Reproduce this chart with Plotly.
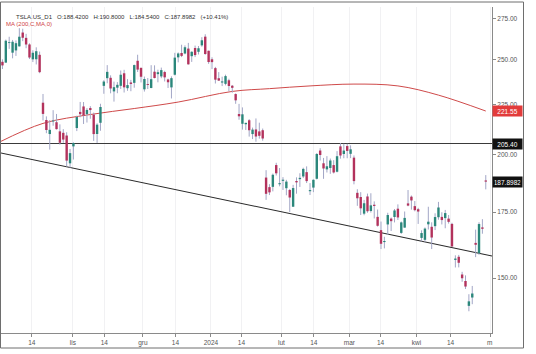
import math
import pandas as pd
import plotly.graph_objects as go

# ---------------- data ----------------
holidays = ["2023-11-23", "2023-12-25", "2024-01-01", "2024-01-15", "2024-02-19", "2024-03-29"]
dates = pd.bdate_range("2023-10-02", "2024-04-29", freq="C", holidays=holidays).strftime("%Y-%m-%d").tolist()

opens = [244.81, 248.61, 248.14, 260.00, 253.98, 255.31, 257.75, 266.20, 262.92, 258.90, 250.05, 250.10, 252.70, 225.95, 217.01, 210.00, 216.50, 215.88, 211.32, 210.60, 209.28, 196.12,
         204.04, 212.97, 221.15, 223.98, 219.98, 223.15, 219.75, 210.03, 215.60, 235.03, 239.29, 239.49, 232.00, 234.04, 235.04, 242.04, 233.75, 236.89, 236.68, 249.21, 245.14,
         233.14, 235.75, 233.87, 242.92, 241.55, 240.27, 242.74, 238.55, 234.19, 241.22, 251.21, 253.78, 253.48, 256.41, 251.90, 256.76, 254.49, 258.35, 263.66, 255.10,
         250.08, 244.98, 239.25, 236.86, 236.14, 238.11, 235.10, 230.57, 220.08, 215.10, 214.86, 216.88, 209.99, 212.26, 211.30, 211.88, 189.70, 185.50, 185.63, 195.33, 187.00,
         188.50, 185.04, 184.26, 177.21, 188.18, 189.00, 190.18, 192.11, 183.99, 185.30, 189.16, 202.06, 196.13, 193.36, 194.00, 195.31, 192.29, 204.04, 200.42, 204.18,
         200.52, 198.73, 183.05, 181.27, 174.35, 181.50, 175.45, 177.77, 173.05, 167.77, 163.16, 170.02, 172.36, 173.00, 176.39, 166.69, 168.76, 178.58, 181.41, 177.45,
         176.17, 164.75, 164.02, 170.07, 169.08, 169.34, 172.91, 173.04, 172.55, 172.34, 170.24, 156.74, 157.64, 151.25, 148.97, 140.56, 143.33, 162.84, 158.96, 168.85, 188.42]
highs = [254.28, 250.02, 261.86, 263.60, 261.65, 261.36, 268.94, 268.60, 265.41, 259.60, 255.40, 257.18, 254.63, 230.61, 218.86, 216.98, 222.05, 220.10, 214.80, 212.41, 210.88, 202.80,
         205.99, 219.20, 226.37, 226.32, 223.12, 224.15, 220.80, 215.38, 225.40, 238.14, 246.70, 240.88, 237.39, 237.10, 243.62, 244.01, 238.75, 238.33, 247.00, 252.75, 245.22,
         240.19, 239.37, 246.66, 246.57, 244.08, 245.27, 243.44, 238.99, 240.30, 253.88, 254.13, 258.74, 258.34, 259.84, 254.80, 258.22, 257.97, 263.34, 265.13, 255.19,
         251.25, 245.68, 242.70, 240.12, 241.25, 238.96, 235.50, 230.93, 225.34, 223.49, 215.67, 217.45, 213.19, 217.80, 215.65, 212.73, 193.00, 186.78, 191.48, 196.36, 193.97,
         189.88, 188.69, 184.68, 186.49, 189.79, 191.62, 194.12, 194.73, 187.26, 188.89, 200.88, 203.17, 198.60, 199.44, 198.32, 197.57, 201.78, 205.60, 205.30, 205.28,
         204.52, 199.75, 184.59, 183.33, 180.04, 182.73, 182.87, 179.43, 176.05, 171.17, 165.18, 174.72, 172.82, 176.25, 178.18, 171.20, 175.24, 184.25, 181.91, 179.57,
         176.75, 167.69, 168.82, 177.19, 170.86, 174.50, 179.22, 174.93, 175.88, 173.81, 170.69, 158.19, 158.33, 152.20, 150.94, 144.44, 147.26, 167.97, 170.88, 172.12, 190.80]
lows = [242.62, 244.45, 248.11, 256.25, 250.65, 252.05, 257.65, 260.90, 256.63, 250.22, 248.48, 247.08, 242.08, 216.78, 210.42, 202.51, 214.11, 212.20, 204.88, 205.77, 194.67, 194.07,
        197.85, 211.45, 218.40, 215.00, 215.72, 217.64, 206.68, 205.69, 211.61, 230.72, 236.45, 230.96, 226.54, 231.02, 233.34, 231.40, 232.33, 232.10, 234.01, 242.76, 236.91,
        231.90, 233.29, 233.70, 239.17, 236.98, 239.27, 237.45, 233.87, 228.20, 240.79, 248.30, 251.36, 253.01, 247.00, 248.55, 251.37, 252.91, 257.52, 252.71, 247.43,
        244.41, 236.32, 237.73, 234.90, 235.30, 232.04, 231.29, 225.37, 217.15, 212.18, 212.01, 208.74, 207.56, 206.27, 207.75, 206.77, 180.06, 182.10, 183.67, 190.61, 185.85,
        184.28, 182.00, 175.01, 177.11, 182.68, 185.58, 189.48, 187.28, 182.11, 183.35, 188.86, 197.40, 189.13, 191.95, 191.36, 191.50, 192.00, 198.26, 198.44, 198.45,
        198.50, 186.72, 177.57, 173.79, 173.70, 174.70, 174.80, 172.41, 169.15, 160.51, 160.76, 165.90, 167.42, 170.82, 171.80, 166.30, 168.73, 177.38, 176.00, 175.30,
        170.21, 163.43, 163.28, 168.01, 160.51, 167.79, 171.92, 170.01, 168.51, 170.36, 161.38, 153.75, 153.78, 148.70, 146.22, 138.80, 141.11, 157.51, 158.36, 166.37, 184.54]
closes = [251.60, 246.53, 261.16, 260.05, 260.53, 259.67, 263.62, 262.99, 258.87, 251.12, 253.92, 254.85, 242.68, 220.11, 211.99, 212.08, 216.52, 212.42, 205.76, 207.30, 197.36, 200.84,
          205.66, 218.51, 219.96, 219.27, 222.18, 222.11, 209.98, 214.65, 223.71, 237.41, 242.84, 233.59, 234.30, 235.60, 241.20, 234.21, 235.45, 236.08, 246.72, 244.14, 240.08,
          238.83, 235.58, 238.72, 239.37, 242.64, 243.84, 239.74, 237.01, 239.29, 251.05, 253.50, 252.08, 257.22, 247.14, 254.50, 252.54, 256.61, 261.44, 253.18, 248.48,
          248.42, 238.45, 237.93, 237.49, 240.45, 234.96, 233.94, 227.22, 218.89, 219.91, 215.55, 211.88, 212.19, 208.80, 209.14, 207.83, 182.63, 183.25, 190.93, 191.59, 187.29,
          188.86, 187.91, 181.06, 185.10, 187.58, 189.56, 193.57, 188.13, 184.02, 188.71, 200.45, 199.95, 193.76, 194.77, 197.41, 191.97, 199.40, 199.73, 202.04, 201.88,
          202.64, 188.14, 180.74, 176.54, 178.65, 175.34, 177.77, 177.54, 169.48, 162.50, 163.57, 173.80, 171.32, 175.66, 172.82, 170.83, 172.63, 177.67, 179.83, 175.79,
          175.22, 166.63, 168.38, 171.11, 164.90, 172.98, 176.88, 171.76, 174.60, 171.05, 161.48, 157.11, 155.45, 149.93, 147.05, 142.05, 144.68, 162.13, 170.18, 168.29, 187.8982]

# MA(200) readings (trading-day index, value)
ma_idx = [0, 13, 27, 40, 53, 69, 80, 92, 105, 118, 130, 144]
ma_val = [206.0, 215.3, 219.8, 222.9, 226.3, 232.0, 233.5, 235.0, 236.0, 235.0, 230.0, 221.6]

# trend line anchors and horizontal level
trend_idx = [0, 146]
trend_val = [201.1, 157.9]
level = 205.40
ma_last = 221.55
last_price = 187.8982

tick_text = ["14", "lis", "14", "gru", "14", "2024", "14", "lut", "14", "mar", "14", "kwi", "14", "m"]
y_ticks = [150, 175, 200, 225, 250, 275]
header = "TSLA.US_D1   O:188.4200   H:190.8000   L:184.5400   C:187.8982   (+10.41%)"
ma_label = "MA (200,C,MA,0)"

# ---------------- figure ----------------
n = len(closes)
assert len(dates) == n
idx = list(range(n))

UP = "#2b877b"
DOWN = "#b3325c"
WICK = "#a2a6c6"

fig = go.Figure()

# trend line & level
fig.add_trace(go.Scatter(x=trend_idx, y=trend_val, mode="lines",
                         line=dict(color="#2a2a2a", width=1.1), hoverinfo="skip"))
fig.add_trace(go.Scatter(x=[-5, n + 5], y=[level, level], mode="lines",
                         line=dict(color="#3a3a3a", width=1.1), hoverinfo="skip"))
# MA line
fig.add_trace(go.Scatter(x=ma_idx, y=ma_val, mode="lines", line_shape="spline",
                         line=dict(color="#cf4a4a", width=1), hoverinfo="skip"))

# wicks
wx, wy = [], []
for i in idx:
    wx += [i, i, None]
    wy += [lows[i], highs[i], None]
fig.add_trace(go.Scatter(x=wx, y=wy, mode="lines", line=dict(color=WICK, width=1), hoverinfo="skip"))

# bodies
for up, col in ((True, UP), (False, DOWN)):
    bx, by = [], []
    for i in idx:
        if (closes[i] >= opens[i]) == up:
            o, c = opens[i], closes[i]
            if abs(c - o) < 0.4:
                o, c = o - 0.25, o + 0.25
            bx += [i, i, None]
            by += [o, c, None]
    fig.add_trace(go.Scatter(x=bx, y=by, mode="lines", line=dict(color=col, width=2.4),
                             hoverinfo="skip"))

# plot geometry (pixels)
L, R, T, B = 1, 44, 7, 21
W, H = 536 - L - R, 354 - T - B
px_per = 3.38
x_off = -0.94
x0 = (L - x_off) / px_per
x1 = (L + W - x_off) / px_per
tick_px = [31.8, 72.8, 104.3, 142.9, 175.4, 210.9, 241.4, 281.4, 313.8, 349.4, 380.5, 416.4, 450.6, 490.5]
tick_pos = [(p - x_off) / px_per for p in tick_px]
shown_text = tick_text[:-1] + [""]

FONT = "Liberation Sans, Arial, sans-serif"
fig.update_layout(
    width=536, height=354,
    margin=dict(l=L, r=R, t=T, b=B),
    paper_bgcolor="white", plot_bgcolor="white",
    showlegend=False,
    font=dict(family=FONT, size=7, color="#555555"),
    xaxis=dict(range=[x0, x1], tickvals=tick_pos, ticktext=shown_text,
               showgrid=True, gridcolor="#f1f1f3", gridwidth=1,
               showline=True, linecolor="#8a8a8a", linewidth=1,
               ticks="outside", ticklen=3, tickcolor="#8a8a8a",
               tickfont=dict(size=6.5, color="#555555"), zeroline=False, fixedrange=True),
    yaxis=dict(type="log", side="right",
               range=[2.12033, 2.45114],
               tickvals=y_ticks, ticktext=[f"{v:.2f}" for v in y_ticks],
               showgrid=False, showline=True, linecolor="#8a8a8a", linewidth=1,
               ticks="outside", ticklen=3, tickcolor="#8a8a8a",
               tickfont=dict(size=6.5, color="#555555"), zeroline=False),
)

# last (clipped) month label, placed at its tick
fig.add_annotation(xref="x", yref="paper", x=tick_pos[-1] - 0.4, y=0, yshift=-9,
                   xanchor="center", yanchor="middle", text=tick_text[-1], showarrow=False,
                   font=dict(color="#555555", size=6.5, family=FONT))

# price labels on the axis
for val, txt, bg in ((ma_last, f"{ma_last:.2f}", "#e23b3b"),
                     (level, f"{level:.2f}", "#111111"),
                     (last_price, f"{last_price:.4f}", "#111111")):
    fig.add_annotation(xref="paper", yref="y", x=1.0, y=math.log10(val),
                       xanchor="left", yanchor="middle", text=txt, showarrow=False,
                       bgcolor=bg, font=dict(color="white", size=6.5, family=FONT),
                       borderpad=1.5, width=26, align="center")

# header texts
fig.add_annotation(xref="paper", yref="paper", x=(14 - L) / W, y=(354 - B - 16.7) / H,
                   xanchor="left", yanchor="middle", text=header, showarrow=False,
                   font=dict(color="#333333", size=6, family=FONT))
fig.add_annotation(xref="paper", yref="paper", x=(4 - L) / W, y=(354 - B - 23.5) / H,
                   xanchor="left", yanchor="middle", text=ma_label, showarrow=False,
                   font=dict(color="#d04444", size=6, family=FONT))

# outer screenshot frame
fig.add_shape(type="rect", xref="paper", yref="paper",
              x0=(0.5 - L) / W, x1=(523.5 - L) / W,
              y0=(354 - B - 348) / H, y1=(354 - B - 2) / H,
              line=dict(color="#6e6e6e", width=1), fillcolor="rgba(0,0,0,0)", layer="above")

fig.write_html("out.html")
